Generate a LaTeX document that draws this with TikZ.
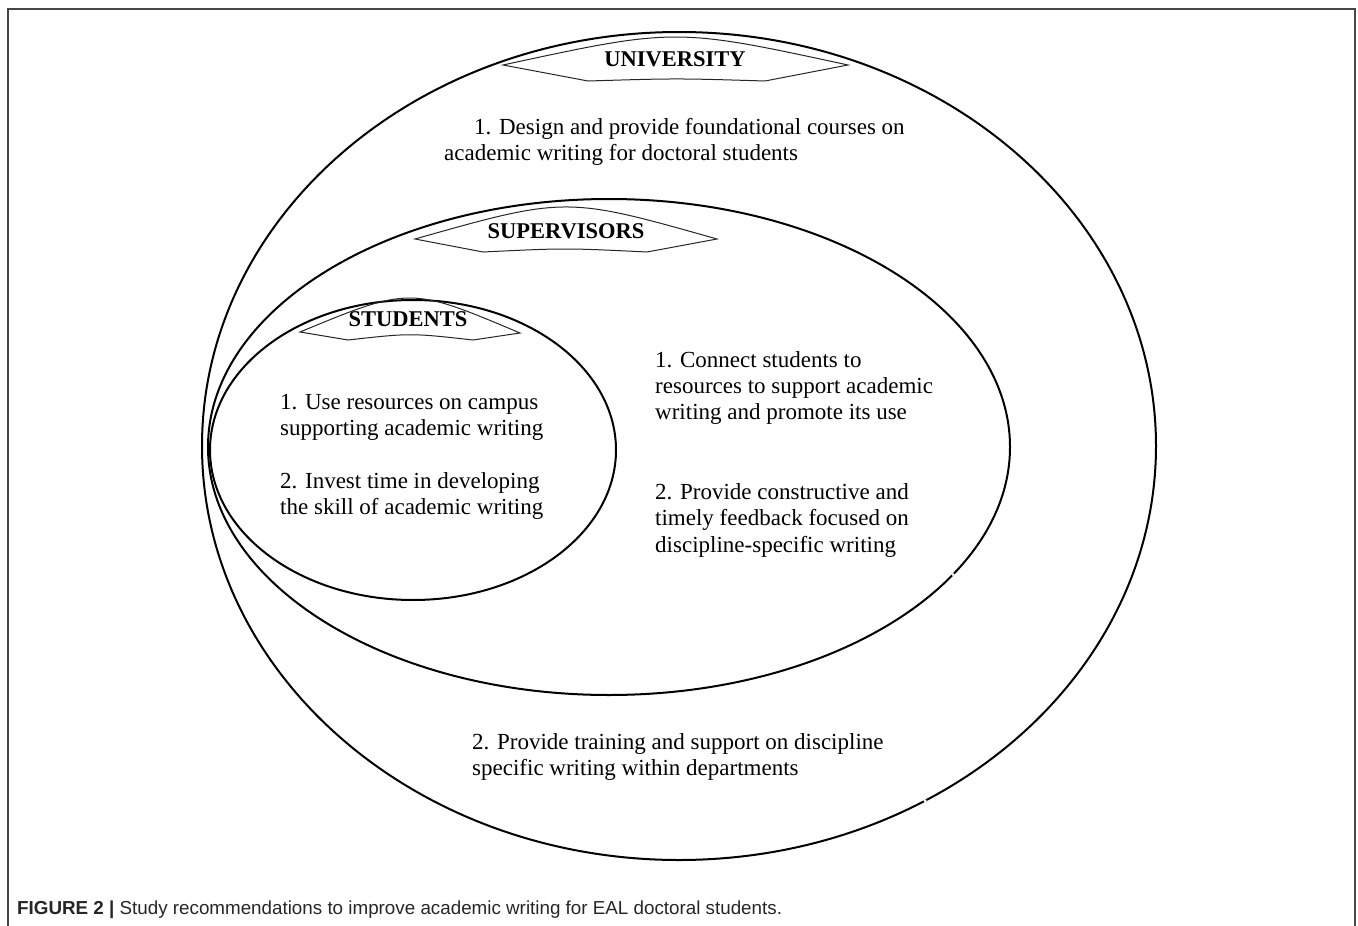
\documentclass[tikz,border=0pt]{standalone}
\usepackage{fontspec}
\setmainfont{Liberation Serif}
\newfontfamily\capfont{Liberation Sans}
\begin{document}
\begin{tikzpicture}[x=1pt,y=-1pt,
  ring/.style={draw=black,line width=2pt},
  banner/.style={draw=black!85,line width=1pt,line join=miter},
  bannertext/.style={font=\fontsize{22.5}{26}\selectfont\bfseries,inner sep=0,anchor=center},
  body/.style={font=\fontsize{23}{26}\selectfont,inner sep=0,anchor=base west},
  framestyle/.style={draw=black!72,line width=1.6pt},
  gap/.style={fill=white,draw=none}]
\useasboundingbox (0,0) rectangle (1358,926);
% frame
\draw[framestyle] (8,926) -- (8,9) -- (1355,9) -- (1355,926);
% ellipses
\draw[ring] (679,446) ellipse [x radius=477,y radius=414];
\draw[ring] (609,447) ellipse [x radius=401,y radius=248];
\draw[ring] (413,450) ellipse [x radius=203,y radius=150];
% small breaks in the rings
\fill[gap] (953,574.5) circle (1.6);
\fill[gap] (925,800.7) circle (1.6);
% banners
\draw[banner] (503,65) .. controls (675.5,27.7) .. (848,65) -- (765,81) .. controls (676.5,78.3) .. (588,81) -- cycle;
\draw[banner] (415,239) .. controls (566,196.3) .. (717,239) -- (647,252) .. controls (565,248) .. (483,252) -- cycle;
\draw[banner] (300,332) .. controls (410,286.5) .. (520,333) -- (473,340) .. controls (410.5,333) .. (348,340) -- cycle;
\node[bannertext] (tu) at (675,59.5) {UNIVERSITY};
\node[bannertext] (tsup) at (566,231) {SUPERVISORS};
\node[bannertext] (tst) at (408,319.5) {STUDENTS};
% university texts
\node[body] (u1a) at (474,134) {1. Design and provide foundational courses on};
\node[body] (u1b) at (444,160) {academic writing for doctoral students};
\node[body] (u2a) at (472,749) {2. Provide training and support on discipline};
\node[body] (u2b) at (472,775) {specific writing within departments};
% supervisors texts
\node[body] (s1a) at (655,367) {1. Connect students to};
\node[body] (s1b) at (655,393) {resources to support academic};
\node[body] (s1c) at (655,419) {writing and promote its use};
\node[body] (s2a) at (655,499) {2. Provide constructive and};
\node[body] (s2b) at (655,525) {timely feedback focused on};
\node[body] (s2c) at (655,552) {discipline-specific writing};
% students texts
\node[body] (t1a) at (280,409) {1. Use resources on campus};
\node[body] (t1b) at (280,435) {supporting academic writing};
\node[body] (t2a) at (280,488) {2. Invest time in developing};
\node[body] (t2b) at (280,514) {the skill of academic writing};
% caption
\node[font=\capfont\fontsize{18.8}{22}\selectfont,inner sep=0,anchor=base west,text=black!85] (cap) at (17,914.5)
  {\textbf{FIGURE 2 |} Study recommendations to improve academic writing for EAL doctoral students.};
\end{tikzpicture}
\end{document}
